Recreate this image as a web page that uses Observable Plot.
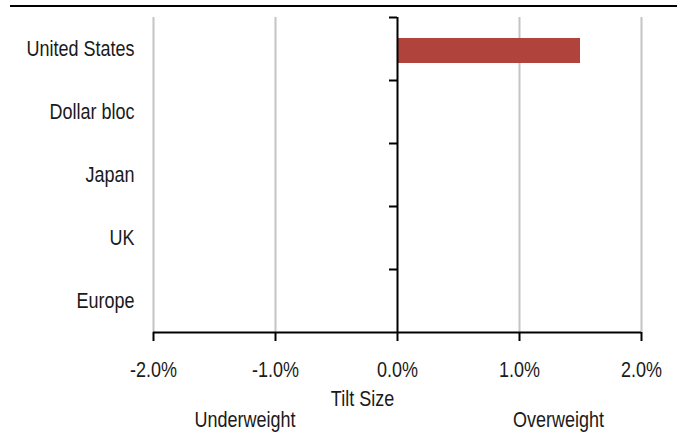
<!DOCTYPE html>
<html>
<head>
<meta charset="utf-8">
<script src="https://cdn.jsdelivr.net/npm/d3@7"></script>
<script src="https://cdn.jsdelivr.net/npm/@observablehq/plot@0.6"></script>
<style>
  body { margin: 0; background: #fff; }
  #chart { position: relative; width: 685px; height: 440px; }
  #chart svg { position: absolute; left: 0; top: 0; }
  #topRule { position: absolute; left: 10px; top: 5px; width: 667px; height: 2px; background: #000; z-index: 1; }
</style>
</head>
<body>
<div id="chart"><div id="topRule"></div></div>
<script>
// Regional equity tilts (share of portfolio, over/under benchmark)
const regions = ["United States", "Dollar bloc", "Japan", "UK", "Europe"];
const tilts = [0.015, 0, 0, 0, 0];
const xTicks = [-0.02, -0.01, 0, 0.01, 0.02];
const axisTitle = "Tilt Size";
const sideLabels = ["Underweight", "Overweight"];

const rows = regions.map((region, i) => ({region, i, tilt: tilts[i]}));
const pct = v => (v * 100).toFixed(1) + "%";
const font = '"Liberation Sans", Arial, sans-serif';
const ink = "#1a1a1a";

const chart = Plot.plot({
  width: 685,
  height: 440,
  marginTop: 17,
  marginBottom: 108,
  marginLeft: 153,
  marginRight: 44,
  style: {fontFamily: font, fontSize: "18px", color: ink, background: "transparent"},
  x: {domain: [xTicks[0], xTicks[xTicks.length - 1]], axis: null},
  y: {domain: [0, regions.length], reverse: true, axis: null},
  marks: [
    // vertical gridlines
    Plot.ruleX(xTicks.filter(v => v !== 0), {stroke: "#c4c4c4", strokeWidth: 2}),
    // tilt bars
    Plot.rect(rows, {
      x1: 0, x2: "tilt",
      y1: "i", y2: d => d.i + 1,
      insetTop: 21, insetBottom: 17,
      fill: "#b0443d"
    }),
    // zero line with ticks between categories
    Plot.ruleX([0], {stroke: "#000", strokeWidth: 2}),
    Plot.ruleY(d3.range(regions.length), {x1: 0, x2: 0, insetLeft: -8, stroke: "#000", strokeWidth: 2}),
    // baseline
    Plot.ruleY([regions.length], {stroke: "#000", strokeWidth: 2}),
    // x axis
    Plot.axisX(xTicks, {
      tickSize: 9, tickPadding: 20, tickFormat: pct,
      stroke: "#000", strokeWidth: 2, fill: ink, fontSize: 18, label: null
    }),
    // category labels
    Plot.axisY(regions.map((_, i) => i + 0.5), {
      anchor: "left", tickSize: 0, tickPadding: 19,
      tickFormat: v => regions[Math.floor(v)], fill: ink, fontSize: 18, label: null
    }),
    // axis title and side labels
    Plot.text([axisTitle], {x: 0, frameAnchor: "bottom", dx: -35, dy: 73, fill: ink, fontSize: 18}),
    Plot.text(sideLabels, {
      x: (d, i) => (i === 0 ? -0.0125 : 0.0132),
      frameAnchor: "bottom", dy: 94, fill: ink, fontSize: 18
    })
  ]
});

// tall, narrow lettering: stretch every label vertically around its anchor
d3.select(chart).selectAll("text").attr("transform", function () {
  return (this.getAttribute("transform") || "") + " scale(1,1.18)";
});

document.getElementById("chart").appendChild(chart);
</script>
</body>
</html>
